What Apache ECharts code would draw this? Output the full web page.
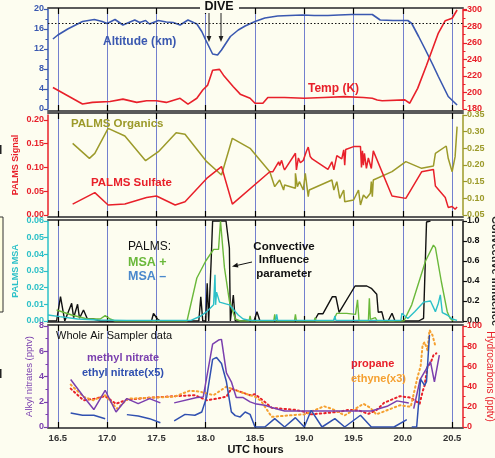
<!DOCTYPE html>
<html><head><meta charset="utf-8">
<script src="https://cdn.jsdelivr.net/npm/echarts@6/dist/echarts.min.js"></script>
<style>html,body{margin:0;padding:0;background:#fdfdf0}#c{width:495px;height:458px}</style>
</head><body><div id="c"></div>
<script>
// ---------- data ----------
const xTicks = [16.5,17.0,17.5,18.0,18.5,19.0,19.5,20.0,20.5];

const altT = [16.45,16.5,16.6,16.75,16.87,16.95,17.0,17.08,17.16,17.22,17.28,17.33,17.39,17.43,17.52,17.6,17.67,17.74,17.82,17.91,17.96,18.0,18.07,18.12,18.16,18.25,18.33,18.4,18.5,18.6,18.73,18.85,18.98,19.0,19.1,19.24,19.35,19.48,19.6,19.69,19.77,19.9,20.05,20.09,20.16,20.23,20.3,20.36,20.46,20.55];
const alt  = [14.0,14.8,16.0,17.5,17.9,17.5,17.1,17.9,16.8,17.3,17.8,17.3,17.7,17.0,17.7,17.4,17.3,16.8,17.8,17.0,15.5,13.8,11.0,10.8,11.8,14.5,15.8,16.6,17.5,18.2,18.6,18.7,18.8,18.5,18.7,18.7,18.8,18.9,18.9,18.9,17.8,17.7,17.7,17.1,14.5,11.8,9.0,6.5,2.5,0.8];
const tropopause = 17.1;

const tempT = [16.45,16.6,16.75,16.85,17.03,17.16,17.3,17.4,17.5,17.6,17.74,17.82,17.91,17.97,18.02,18.07,18.14,18.18,18.28,18.35,18.45,18.5,18.58,18.63,18.8,19.0,19.2,19.41,19.6,19.69,19.74,19.79,20.02,20.07,20.15,20.24,20.36,20.43,20.5,20.55];
const temp  = [206,196,186,188,189,192,188,190,190,188,193,186,193,203,209,227,228,221,207,198,193,187,187,194,194,193,194,195,194,193,191,190,191,187,205,233,272,287,290,300];

const orgT = [16.65,16.82,16.875,17.01,17.18,17.39,17.52,17.70,17.79,18.01,18.16,18.27,18.45,18.65,18.70,18.75,18.79,18.80,18.91,18.91,18.93,18.95,18.99,19.01,19.04,19.05,19.07,19.28,19.30,19.33,19.36,19.40,19.41,19.50,19.55,19.57,19.60,19.63,19.67,19.68,19.69,19.70,19.89,20.03,20.19,20.31,20.33,20.44,20.46,20.50,20.53,20.55];
const org  = [0.265,0.22,0.235,0.31,0.287,0.213,0.24,0.297,0.292,0.21,0.17,0.28,0.25,0.18,0.135,0.155,0.125,0.14,0.13,0.175,0.135,0.15,0.125,0.175,0.105,0.125,0.12,0.155,0.125,0.15,0.10,0.125,0.09,0.095,0.125,0.08,0.11,0.10,0.115,0.15,0.105,0.155,0.18,0.21,0.19,0.197,0.235,0.257,0.22,0.18,0.225,0.315];

const sulT = [16.65,16.875,17.01,17.18,17.40,17.50,17.69,17.79,18.01,18.16,18.27,18.65,18.68,18.74,18.75,18.77,18.79,18.80,18.91,18.92,18.94,18.96,18.99,19.02,19.04,19.06,19.08,19.24,19.28,19.30,19.33,19.38,19.40,19.41,19.42,19.50,19.57,19.58,19.59,19.60,19.61,19.63,19.65,19.68,19.70,19.89,20.03,20.19,20.31,20.33,20.43,20.46,20.50,20.53,20.55];
const sul  = [0.023,0.047,0.021,0.023,0.037,0.040,0.021,0.028,0.077,0.102,0.023,0.091,0.091,0.112,0.104,0.115,0.100,0.095,0.130,0.095,0.120,0.110,0.115,0.133,0.143,0.123,0.118,0.096,0.112,0.095,0.125,0.118,0.137,0.105,0.138,0.144,0.144,0.100,0.135,0.105,0.130,0.098,0.120,0.098,0.135,0.040,0.035,0.091,0.096,0.061,0.037,0.016,0.018,0.012,0.017];

const ciT = [16.40,16.487,16.527,16.57,16.64,16.66,16.70,16.72,16.76,16.80,16.86,16.93,17.45,17.47,17.51,17.54,17.93,17.95,17.97,18.0,18.015,18.03,18.055,18.07,18.206,18.24,18.25,18.28,18.30,18.49,18.52,18.55,19.10,19.143,19.19,19.285,19.32,19.353,19.515,19.634,19.68,19.735,19.75,19.786,19.81,19.85,19.89,19.92,20.16,20.21,20.24,20.28];
const ci  = [0,0,0.243,0,0.177,0.033,0.167,0.027,0.11,0.02,0.02,0,0,0.077,0.02,0,0,0.243,0,0,0.377,0,0.6,1.0,1.0,0.73,0,0.26,0,0,0.093,0,0,0.073,0.073,0.243,0.243,0.087,0.35,0.35,0.327,0.267,0.087,0.093,0,0,0.077,0,0,0.027,0.99,1.0];

const msaPT = [16.487,16.64,16.80,16.93,16.98,17.03,17.08,17.81,17.91,18.0,18.08,18.13,18.15,18.17,18.19,18.24,18.30,18.35,18.44,18.45,18.46,18.69,18.70,18.71,18.90,18.91,18.92,19.10,19.11,19.12,19.295,19.33,19.43,19.52,19.54,19.555,19.65,19.66,19.67,19.72,19.74,20.01,20.09,20.23,20.31,20.33,20.39,20.45,20.48,20.51];
const msaP  = [0.0066,0.0036,0.0012,0.0012,0.0032,0.0012,0,0,0.0258,0.036,0.043,0.043,0.06,0.06,0.032,0.012,0.0012,0,0,0.003,0,0,0.004,0,0,0.004,0,0,0.002,0,0,0.0046,0.0046,0.004,0.0127,0,0,0.0137,0.001,0.002,0,0,0.0097,0.036,0.0455,0.044,0.0237,0.0056,0.0015,0];

const msaMT = [16.40,16.52,16.70,16.90,17.20,17.85,17.95,18.01,18.08,18.094,18.10,18.11,18.14,18.24,18.33,18.38,18.45,18.71,18.72,18.73,19.30,19.31,19.32,19.98,19.99,20.05,20.12,20.21,20.28,20.33,20.36,20.38,20.40,20.45,20.50,20.55];
const msaM  = [0.0036,0.0026,0.0012,0.0006,0.0004,0.0004,0.003,0.0056,0.0097,0.0278,0.0097,0.0173,0.0113,0.0097,0.0036,0.0012,0.0004,0.0004,0.004,0.0004,0.0004,0.003,0.0004,0.0004,0.0046,0.0015,0.0056,0.0113,0.012,0.0056,0.0107,0.0157,0.005,0.0036,0.0012,0.0004];

const meT = [16.63,16.75,16.865,16.98,17.09,17.20,17.315,17.43,17.54,17.6,17.68,17.91,17.975,18.07,18.13,18.16,18.21,18.26,18.31,18.38,18.45,18.5,18.6,18.67,18.8,19.68,19.84,19.94,20.06,20.09,20.11,20.175,20.28,20.32,20.37];
const me  = [3.76,2.52,1.38,2.91,1.19,2.25,1.85,2.25,1.91,null,1.91,2.33,2.38,6.57,6.89,6.94,4.29,3.58,2.33,2.33,1.99,1.85,1.72,1.54,1.27,1.27,1.64,2.07,1.91,null,1.46,3.76,5.17,3.58,5.7];

const etT = [16.63,16.75,16.865,16.98,17.1,17.20,17.315,17.43,17.54,17.6,17.68,17.79,17.89,17.96,18.01,18.07,18.11,18.16,18.21,18.26,18.30,18.35,18.40,18.45,18.5,18.6,18.7,18.8,18.91,19.0,19.07,19.18,19.31,19.41,19.57,19.68,19.91,20.04,20.07,20.09,20.14,20.18,20.22,20.24,20.27];
const et  = [1.11,0.93,0.93,0.66,null,0.98,0.87,0.66,0.34,null,0.48,1.0,0.93,1.19,2.38,5.35,5.51,5.03,3.58,1.2,0.9,0.8,1.19,1.0,0,0,0.66,0,0.74,0,1.32,0,0.66,0,0.93,0,0,0.58,null,0,0,3.8,3.3,3.6,7.3];

const prT = [16.63,16.76,16.87,16.98,17.09,17.2,17.43,17.68,17.89,18.01,18.11,18.21,18.26,18.45,18.5,18.56,18.67,18.91,19.0,19.07,19.35,19.45,19.55,19.65,19.73,19.81,19.97,20.08,20.17,20.2,20.22,20.25,20.28,20.31,20.34];
const pr  = [38,26.5,28,30.5,23,27,29,30.5,31.5,26.5,28,30,38,31.5,32.5,28,19,17,15,12.5,15,17,16.5,13,16.5,24,30.5,29,23,35,41,60,63,71,73];

const ehT = [16.63,16.76,16.86,16.98,17.1,17.21,17.43,17.68,17.84,17.94,18.08,18.21,18.28,18.45,18.5,18.56,18.67,18.91,19.0,19.2,19.28,19.41,19.6,19.67,19.73,19.97,20.08,20.15,20.18,20.2,20.22,20.25,20.27,20.3,20.33];
const eh  = [42,30,26.5,31.5,18,28,29,30,36,35,31.5,40,37,31.5,30,26,10,12,12.5,20.5,18,11.5,23,19,12.5,21.5,20,50,60,81,84,76,96,91,80];

// ---------- chart ----------
const FONT = '"Liberation Sans", Arial, sans-serif';
const BG = '#fdfdf0';
const C = {
  blue:'#3a58b0', red:'#e8202a', olive:'#9c9a2a', green:'#6ab83a', cyan:'#2cc0c8',
  msaMinus:'#4a88cc', purple:'#7a3fae', eblue:'#3050b0', orange:'#f5a030', grid:'#5a6ac8', border:'#5a5a5a'
};
const XMIN = 16.4, XMAX = 20.61;
function pairs(t, v){ return t.map((x,i)=>[x, v[i]===null ? '-' : v[i]]); }

const panels = [
  {top:9, height:100, offTop:1, offBot:2},
  {top:115, height:100, offTop:2, offBot:2},
  {top:221, height:100, offTop:1, offBot:1},
  {top:326, height:101, offTop:1, offBot:1}
];
const grid = panels.map(p=>({left:48, width:415, top:p.top, height:p.height, containLabel:false, outerBoundsMode:'none'}));

const xAxis = [];
panels.forEach((p,i)=>{
  xAxis.push({
    type:'value', gridIndex:i, min:XMIN, max:XMAX, position:'bottom', offset:p.offBot,
    axisLine:{show:true, onZero:false, lineStyle:{color:C.border, width:2}},
    axisTick:{show:true, inside:true, length:6, customValues:xTicks, lineStyle:{color:'#000', width:1.2}},
    axisLabel:{show:i===3, customValues:xTicks, formatter:v=>v.toFixed(1), color:'#333', fontFamily:FONT, fontWeight:'bold', fontSize:9.5, margin:5},
    splitLine:{show:true, lineStyle:{color:C.grid, width:1, opacity:0.85}},
    name: i===3 ? 'UTC hours' : '', nameLocation:'middle', nameGap:16, nameMoveOverlap:false,
    nameTextStyle:{fontFamily:FONT, fontWeight:'bold', fontSize:11, color:'#111'}
  });
  xAxis.push({
    type:'value', gridIndex:i, min:XMIN, max:XMAX, position:'top', offset:p.offTop,
    axisLine:{show:true, onZero:false, lineStyle:{color:C.border, width:2}},
    axisTick:{show:true, inside:true, length:6, customValues:xTicks, lineStyle:{color:'#000', width:1.2}},
    axisLabel:{show:false}, splitLine:{show:false}
  });
});

function yAx(o){
  const col = o.color;
  return {
    type:'value', gridIndex:o.g, position:o.pos, min:o.min, max:o.max, interval:o.interval,
    axisLine:{show:true, onZero:false, lineStyle:{color:col, width:1.5}},
    axisTick:{show:true, length:4, lineStyle:{color:col, width:1.2}},
    minorTick:{show:!!o.minor, splitNumber:2, length:2.5, lineStyle:{color:col, width:1}},
    axisLabel:{color:col, fontFamily:FONT, fontWeight:'bold', fontSize:9, margin:4,
      showMaxLabel: o.hideMax ? false : null,
      formatter: o.dec!==undefined ? (v=>v.toFixed(o.dec)) : null},
    splitLine:{show:false},
    name:o.name||'', nameLocation:'middle', nameGap:o.gap||20, nameRotate:o.rot, nameMoveOverlap:false,
    nameTextStyle:{color:o.nameColor||col, fontFamily:FONT, fontWeight:o.nameWeight||'bold', fontSize:o.nameSize||9}
  };
}
const yAxis = [
  yAx({g:0,pos:'left',min:0,max:20,interval:4,color:C.blue,minor:true}),
  yAx({g:0,pos:'right',min:180,max:301.2,interval:20,color:C.red,minor:true,hideMax:true}),
  yAx({g:1,pos:'left',min:0,max:0.2105,interval:0.05,color:C.red,dec:2,hideMax:true,name:'PALMS Signal',gap:28,rot:90}),
  yAx({g:1,pos:'right',min:0.05,max:0.35,interval:0.05,color:C.olive,dec:2}),
  yAx({g:2,pos:'left',min:0,max:0.06,interval:0.01,color:C.cyan,dec:2,name:'PALMS MSA',gap:28,rot:90,nameSize:9}),
  yAx({g:2,pos:'right',min:0,max:1,interval:0.2,color:'#111',dec:1,name:'Convective Influence',gap:27,rot:-90,nameSize:11,nameColor:'#222'}),
  yAx({g:3,pos:'left',min:0,max:8,interval:2,color:C.purple,minor:true,name:'Alkyl nitrates (pptv)',gap:13.5,rot:90,nameWeight:'normal',nameSize:9.5}),
  yAx({g:3,pos:'right',min:0,max:100,interval:20,color:C.red,minor:true,name:'Hydrocarbons (pptv)',gap:22,rot:-90,nameWeight:'normal',nameSize:10})
];

function line(name, t, v, xi, yi, color, width, dotted){
  return {
    name, type:'line', xAxisIndex:xi, yAxisIndex:yi, data:pairs(t,v), showSymbol:false, symbol:'none',
    connectNulls:false, animation:false,
    lineStyle:{color, width:width||1.5, type: dotted ? [1.5,3] : 'solid', cap: dotted ? 'round':'butt'}
  };
}
const series = [
  Object.assign(line('Altitude', altT, alt, 0, 0, C.blue, 1.6), {
    markLine:{silent:true, symbol:'none', label:{show:false}, data:[{yAxis:tropopause}],
      lineStyle:{color:'#111', type:[1.5,2], width:1}}
  }),
  line('Temp', tempT, temp, 0, 1, C.red, 1.6),
  line('PALMS Organics', orgT, org, 2, 3, C.olive, 1.5),
  line('PALMS Sulfate', sulT, sul, 2, 2, C.red, 1.5),
  line('Convective Influence', ciT, ci, 4, 5, '#111', 1.4),
  line('MSA+', msaPT, msaP, 4, 4, C.green, 1.4),
  line('MSA-', msaMT, msaM, 4, 4, C.cyan, 1.4),
  line('propane', prT, pr, 6, 7, C.red, 2, true),
  line('ethyne(x3)', ehT, eh, 6, 7, C.orange, 2, true),
  line('methyl nitrate', meT, me, 6, 6, C.purple, 1.5),
  line('ethyl nitrate(x5)', etT, et, 6, 6, C.eblue, 1.5)
];

function txt(x, y, text, fill, size, weight, align){
  return {type:'text', z:120, style:{x, y, text, fill, font:(weight||'bold')+' '+size+'px '+FONT, align:align||'left', verticalAlign:'middle'}};
}
const graphic = [
  {type:'rect', z:110, shape:{x:200, y:0, width:39, height:13}, style:{fill:BG}},
  txt(219, 6.5, 'DIVE', '#111', 12.5, 'bold', 'center'),
  {type:'line', z:115, shape:{x1:209, y1:13, x2:209, y2:37}, style:{stroke:'#222', lineWidth:1}},
  {type:'polygon', z:115, shape:{points:[[206.6,36],[211.4,36],[209,42]]}, style:{fill:'#222'}},
  {type:'line', z:115, shape:{x1:221, y1:13, x2:221, y2:37}, style:{stroke:'#222', lineWidth:1}},
  {type:'polygon', z:115, shape:{points:[[218.6,36],[223.4,36],[221,42]]}, style:{fill:'#222'}},
  txt(103, 41.5, 'Altitude (km)', C.blue, 12),
  txt(308, 89, 'Temp (K)', C.red, 12),
  txt(71, 123.5, 'PALMS Organics', C.olive, 11.5),
  txt(91, 183, 'PALMS Sulfate', C.red, 11.5),
  txt(128, 247, 'PALMS:', '#111', 12, 'normal'),
  txt(128, 262.5, 'MSA +', C.green, 12.5),
  txt(128, 276.5, 'MSA \u2013', C.msaMinus, 12.5),
  txt(284, 247, 'Convective', '#111', 11.5, 'bold', 'center'),
  txt(284, 260, 'Influence', '#111', 11.5, 'bold', 'center'),
  txt(284, 273.5, 'parameter', '#111', 11.5, 'bold', 'center'),
  {type:'line', z:115, shape:{x1:252, y1:262, x2:238, y2:265.2}, style:{stroke:'#111', lineWidth:1}},
  {type:'polygon', z:115, shape:{points:[[232,266.5],[238.4,267.6],[237.3,262.7]]}, style:{fill:'#111'}},
  txt(56, 336, 'Whole Air Sampler data', '#111', 11, 'normal'),
  txt(87, 358, 'methyl nitrate', C.purple, 11),
  txt(82, 373, 'ethyl nitrate(x5)', C.eblue, 11),
  txt(351, 364, 'propane', C.red, 11),
  txt(351, 379, 'ethyne(x3)', C.orange, 11),
  {type:'rect', z:100, shape:{x:-6, y:217, width:9, height:95}, style:{fill:'#fefee0', stroke:'#333', lineWidth:1}},
  {type:'rect', z:100, shape:{x:0, y:145, width:1.5, height:9}, style:{fill:'#222'}},
  {type:'rect', z:100, shape:{x:0, y:369, width:1.5, height:9}, style:{fill:'#222'}}
];

const chart = echarts.init(document.getElementById('c'), null, {renderer:'canvas'});
chart.setOption({
  backgroundColor: BG, animation:false,
  grid, xAxis, yAxis, series, graphic
});
</script>
</body></html>
